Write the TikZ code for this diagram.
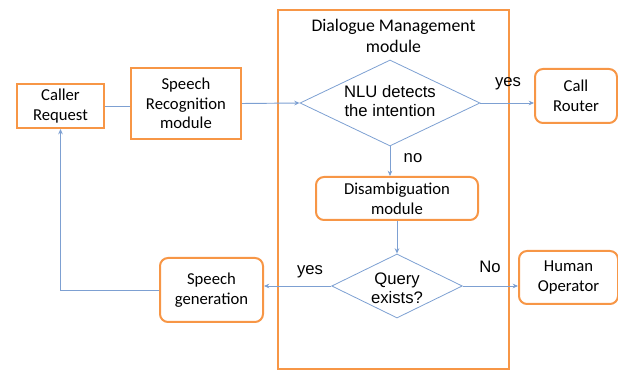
\documentclass[tikz,border=0pt]{standalone}
\usepackage{fontspec}
\setmainfont{Carlito}
\newfontfamily\arialfont{Liberation Sans}
\usetikzlibrary{shapes.geometric,arrows.meta}
\definecolor{boxorange}{RGB}{247,150,70}
\definecolor{flowblue}{RGB}{125,160,210}

\begin{document}
\begin{tikzpicture}[x=0.75pt,y=0.75pt,yscale=-1,xscale=1,
  block/.style={draw=boxorange,line width=1.5pt,align=center,font=\fontsize{12.5}{14.8}\selectfont,inner sep=0pt},
  roundblock/.style={block,rounded corners=6pt},
  decision/.style={diamond,draw=flowblue,line width=0.6pt,inner sep=0pt},
  dtext/.style={align=center,font=\arialfont\fontsize{12.5}{14.6}\selectfont,inner sep=0pt},
  flow/.style={draw=flowblue,line width=0.7pt},
  arr/.style={flow,-{Stealth[length=4pt,width=3.5pt]}},
  lbl/.style={font=\arialfont\fontsize{12.5}{15}\selectfont,inner sep=0pt}]
\useasboundingbox (0,0) rectangle (618,370);

%Shape: Rectangle [dialogue management frame]
\draw [draw=boxorange,line width=1.3pt] (278,10) rectangle (509,369);
% Text Node
\node [block,draw=none,font=\fontsize{13.3}{15.8}\selectfont] (dm) at (393.5,35.5) {Dialogue Management\\module};

%Shape: Boxes
\node [block,minimum width=65.25pt,minimum height=33pt] (caller) at (60.5,106) {Caller\\Request};
\node [block,minimum width=82.5pt,minimum height=53.25pt] (sr) at (186,103.5) {Speech\\Recognition\\module};
\node [roundblock,minimum width=61.5pt,minimum height=40.5pt] (router) at (576,96) {Call\\Router};
\node [roundblock,minimum width=121.5pt,minimum height=32.25pt] (disamb) at (397,198.5) {Disambiguation\\module};
\node [roundblock,minimum width=74.25pt,minimum height=39.75pt] (human) at (568.5,277.5) {Human\\Operator};
\node [roundblock,minimum width=77.25pt,minimum height=48pt] (speechgen) at (211.5,290) {Speech\\generation};

%Shape: Diamonds
\node [decision,minimum width=135pt,minimum height=64.5pt,label={[dtext,yshift=1.5pt]center:{NLU detects\\the intention}}] (nlu) at (390,103) {};
\node [decision,minimum width=98pt,minimum height=48pt,label={[dtext,yshift=-1.5pt]center:{Query\\exists?}}] (query) at (397,286) {};

%Straight Lines
\draw [flow] (caller.east) -- (caller.east -| sr.west);
\draw [arr] (sr.east) -- (nlu.west);
\draw [arr] (nlu.east) -- (nlu.east -| router.west);
\draw [arr] (nlu.south) -- (nlu.south |- disamb.north);
\draw [arr] (disamb.south) -- (query.north);
\draw [arr] (query.east) -- (query.east -| human.west);
\draw [arr] (query.west) -- (query.west -| speechgen.east);
\draw [arr] (speechgen.west) -| (caller.south);

% Text Node
\node [lbl] (yes1) at (508,84) {yes};
\node [lbl] (no1) at (413,158) {no};
\node [lbl] (no2) at (490,267) {No};
\node [lbl] (yes2) at (310,272) {yes};

\end{tikzpicture}
\end{document}
